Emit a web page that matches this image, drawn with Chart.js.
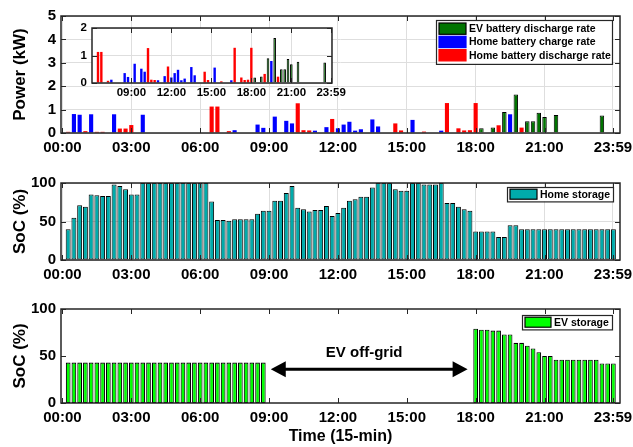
<!DOCTYPE html>
<html>
<head>
<meta charset="utf-8">
<script src="https://cdn.jsdelivr.net/npm/chart.js@4.4.1/dist/chart.umd.min.js"></script>
<style>
  html, body { margin: 0; padding: 0; background: #fff; }
  #wrap { position: relative; width: 633px; height: 447px; }
  #wrap canvas { position: absolute; }
</style>
</head>
<body>
<div id="wrap">
  <canvas id="powerChart" width="633" height="160" style="left:0;top:0"></canvas>
  <canvas id="homeChart" width="633" height="130" style="left:0;top:160px"></canvas>
  <canvas id="evChart" width="633" height="157" style="left:0;top:290px"></canvas>
  <canvas id="insetChart" width="290" height="90" style="left:60px;top:18px"></canvas>
</div>
<script>
// x axis is in 15-minute slots; slot k ends at k*15 min (bars sit at their end time)
const TICK_SLOTS  = [0, 12, 24, 36, 48, 60, 72, 84, 95.93];
const TICK_LABELS = ['00:00', '03:00', '06:00', '09:00', '12:00', '15:00', '18:00', '21:00', '23:59'];
const INSET_TICK_SLOTS  = [36, 48, 60, 72, 84, 95.93];
const INSET_TICK_LABELS = ['09:00', '12:00', '15:00', '18:00', '21:00', '23:59'];

// power (kW) per slot
const EV_DISCHARGE = [
  0, 0, 0, 0, 0, 0, 0, 0, 0, 0, 0, 0,
  0, 0, 0, 0, 0, 0, 0, 0, 0, 0, 0, 0,
  0, 0, 0, 0, 0, 0, 0, 0, 0, 0, 0, 0,
  0, 0, 0, 0, 0, 0, 0, 0, 0, 0, 0, 0,
  0, 0, 0, 0, 0, 0, 0, 0, 0, 0, 0, 0,
  0, 0, 0, 0, 0, 0, 0, 0, 0, 0, 0, 0,
  0.20, 0, 0.24, 0, 0.90, 0, 1.64, 0, 0.50, 0.50, 0.87, 0.68,
  0, 0.77, 0, 0, 0, 0, 0, 0, 0, 0.75, 0, 0
];
const HOME_CHARGE = [
  0, 0.81, 0.78, 0, 0.80, 0, 0, 0, 0.80, 0, 0, 0,
  0, 0.78, 0, 0, 0, 0, 0, 0, 0, 0, 0, 0,
  0, 0, 0, 0, 0, 0.12, 0, 0, 0, 0.36, 0.22, 0,
  0.70, 0, 0.52, 0.41, 0, 0, 0, 0.10, 0, 0.25, 0, 0.20,
  0.36, 0.48, 0.10, 0.16, 0, 0.58, 0.28, 0, 0, 0, 0, 0,
  0.56, 0, 0, 0, 0, 0.10, 0, 0, 0, 0, 0, 0,
  0, 0, 0, 0, 0, 0.80, 0, 0, 0, 0, 0, 0,
  0, 0, 0, 0, 0, 0, 0, 0, 0, 0, 0, 0
];
const HOME_DISCHARGE = [
  0.05, 0, 0, 0.08, 0, 0.05, 0.05, 0, 0, 0.19, 0.19, 0.34,
  0, 0, 0, 0, 0, 0, 0, 0, 0, 0, 0, 0,
  0, 1.13, 1.13, 0, 0.08, 0, 0, 0, 0, 0, 0, 0,
  0, 0, 0, 0, 1.27, 0.12, 0.11, 0, 0, 0, 0.60, 0,
  0, 0, 0, 0, 0, 0, 0, 0, 0, 0.41, 0.11, 0,
  0, 0, 0.06, 0, 0, 0, 1.28, 0, 0.20, 0.11, 0.12, 1.28,
  0, 0, 0, 0.33, 0, 0, 0, 0.23, 0, 0, 0, 0,
  0, 0, 0, 0, 0, 0, 0, 0, 0, 0, 0, 0
];

// state of charge (%) per slot
const HOME_SOC = [
  40, 55, 71, 69, 85, 84, 83, 83, 98, 96, 92, 85,
  85, 100, 100, 100, 100, 100, 100, 100, 100, 100, 100, 100,
  100, 76, 52, 52, 51, 53, 53, 53, 53, 60, 64, 64,
  77, 77, 87, 96, 68, 66, 63, 65, 65, 70, 57, 61,
  68, 77, 79, 82, 82, 94, 100, 100, 100, 92, 90, 90,
  100, 100, 98, 98, 98, 100, 74, 74, 69, 66, 64, 37,
  37, 37, 37, 30, 30, 45, 45, 40, 40, 40, 40, 40,
  40, 40, 40, 40, 40, 40, 40, 40, 40, 40, 40, 40
];
// EV is off-grid between the two blocks (null = no bar)
const EV_SOC = [
  43, 43, 43, 43, 43, 43, 43, 43, 43, 43, 43, 43,
  43, 43, 43, 43, 43, 43, 43, 43, 43, 43, 43, 43,
  43, 43, 43, 43, 43, 43, 43, 43, 43, 43, 43, null,
  null, null, null, null, null, null, null, null, null, null, null, null,
  null, null, null, null, null, null, null, null, null, null, null, null,
  null, null, null, null, null, null, null, null, null, null, null, 79,
  78, 78, 77, 77, 73, 73, 64, 64, 61, 58, 54, 50,
  50, 46, 46, 46, 46, 46, 46, 46, 46, 42, 42, 42
];

const INK = '#262626';
const GRID = '#dedede';
Chart.defaults.font.family = "'Liberation Sans', Arial, sans-serif";
Chart.defaults.font.weight = 'bold';
Chart.defaults.color = '#000';

// value i belongs to the slot ending at (i + 1)
const toPoints = (arr) => arr.map((v, i) => ({ x: i + 1, y: v }));
const tickLabel = (slots, labels) => (v) => {
  const k = slots.findIndex(s => Math.abs(s - v) < 1e-6);
  return k >= 0 ? labels[k] : '';
};

// box round the plot area with inward ticks, as MATLAB draws it
const frame = {
  id: 'frame',
  afterDatasetsDraw(chart) {
    const { ctx, chartArea: a, scales } = chart;
    const t = 5;
    ctx.save();
    ctx.strokeStyle = INK;
    ctx.lineWidth = 1;
    ctx.beginPath();
    scales.x.ticks.forEach(tk => {
      const px = Math.round(scales.x.getPixelForValue(tk.value)) + 0.5;
      ctx.moveTo(px, a.bottom); ctx.lineTo(px, a.bottom - t);
      ctx.moveTo(px, a.top); ctx.lineTo(px, a.top + t);
    });
    scales.y.ticks.forEach(tk => {
      const py = Math.round(scales.y.getPixelForValue(tk.value)) + 0.5;
      ctx.moveTo(a.left, py); ctx.lineTo(a.left + t, py);
      ctx.moveTo(a.right, py); ctx.lineTo(a.right - t, py);
    });
    ctx.stroke();
    ctx.lineWidth = 1.5;
    ctx.strokeRect(a.left, a.top, a.right - a.left, a.bottom - a.top);
    ctx.restore();
  }
};

// MATLAB style legend box in the upper right corner
const boxLegend = {
  id: 'boxLegend',
  afterDraw(chart, args, o) {
    if (!o || !o.rows) return;
    const { ctx, chartArea: a } = chart;
    const n = chart.data.datasets.length;
    const w = o.width, h = o.rows * n + 2 * o.pad;
    const x0 = a.right - o.right - w, y0 = a.top + o.top;
    ctx.save();
    ctx.fillStyle = '#fff';
    ctx.fillRect(x0, y0, w, h);
    ctx.strokeStyle = INK;
    ctx.lineWidth = 1.2;
    ctx.strokeRect(x0 + 0.5, y0 + 0.5, w, h);
    ctx.font = 'bold ' + o.size + 'px ' + Chart.defaults.font.family;
    ctx.textBaseline = 'middle';
    chart.data.datasets.forEach((ds, k) => {
      const cy = y0 + o.pad + o.rows * k + o.rows / 2;
      const ph = o.rows - 2;
      ctx.fillStyle = ds.backgroundColor;
      ctx.fillRect(x0 + 3, cy - ph / 2, o.patch, ph);
      ctx.strokeStyle = ds.legendEdge || ds.backgroundColor;
      ctx.lineWidth = 1.2;
      ctx.strokeRect(x0 + 3, cy - ph / 2, o.patch, ph);
      ctx.fillStyle = '#000';
      ctx.fillText(ds.label, x0 + o.patch + 6, cy + 0.5);
    });
    ctx.restore();
  }
};

// double arrow + label for the off-grid period
const offGrid = {
  id: 'offGrid',
  afterDraw(chart, args, o) {
    if (!o || !o.text) return;
    const { ctx, scales: { x, y } } = chart;
    const x1 = x.getPixelForValue(o.from), x2 = x.getPixelForValue(o.to);
    const ya = y.getPixelForValue(o.arrowAt);
    const hl = 15, hw = 8;
    ctx.save();
    ctx.strokeStyle = '#000';
    ctx.fillStyle = '#000';
    ctx.lineWidth = 3;
    ctx.beginPath();
    ctx.moveTo(x1 + hl - 2, ya); ctx.lineTo(x2 - hl + 2, ya);
    ctx.stroke();
    ctx.beginPath();
    ctx.moveTo(x1, ya); ctx.lineTo(x1 + hl, ya - hw); ctx.lineTo(x1 + hl, ya + hw); ctx.closePath();
    ctx.moveTo(x2, ya); ctx.lineTo(x2 - hl, ya - hw); ctx.lineTo(x2 - hl, ya + hw); ctx.closePath();
    ctx.fill();
    ctx.font = 'bold 15px ' + Chart.defaults.font.family;
    ctx.textAlign = 'center';
    ctx.textBaseline = 'middle';
    ctx.fillText(o.text, (x1 + x2) / 2 + o.dx, y.getPixelForValue(o.textAt));
    ctx.restore();
  }
};

const insetBg = {
  id: 'insetBg',
  beforeDraw(chart) {
    const { ctx, chartArea: a } = chart;
    ctx.save();
    ctx.fillStyle = '#fff';
    ctx.fillRect(a.left, a.top, a.right - a.left, a.bottom - a.top);
    ctx.restore();
  }
};

function xAxis(opts) {
  return {
    type: 'linear', offset: false,
    min: opts.min, max: opts.max,
    afterBuildTicks: (ax) => { ax.ticks = opts.slots.map(v => ({ value: v })); },
    afterFit: (ax) => { ax.height = opts.height; ax.paddingLeft = 0; ax.paddingRight = 0; },
    ticks: {
      autoSkip: false, maxRotation: 0, padding: opts.pad,
      font: { size: opts.font, weight: 'bold' }, color: '#000',
      callback: tickLabel(opts.slots, opts.labels)
    },
    grid: { display: opts.grid, color: GRID, drawTicks: false, offset: false },
    border: { display: false },
    title: opts.title ? {
      display: true, text: opts.title, color: '#000',
      font: { size: 16, weight: 'bold' }, padding: { top: 0, bottom: 1 }
    } : { display: false }
  };
}

function yAxis(opts) {
  return {
    min: opts.min, max: opts.max,
    afterFit: (ax) => { ax.width = opts.width; ax.paddingTop = 0; ax.paddingBottom = 0; },
    ticks: { stepSize: opts.step, padding: opts.pad, font: { size: opts.font, weight: 'bold' }, color: '#000' },
    grid: { display: opts.grid, color: GRID, drawTicks: false },
    border: { display: false },
    title: opts.title ? {
      display: true, text: opts.title, color: '#000',
      font: { size: 17, weight: 'bold' }, padding: { top: 10, bottom: 0 }
    } : { display: false }
  };
}

const common = {
  responsive: false, animation: false, devicePixelRatio: 1,
  plugins: { legend: { display: false }, tooltip: { enabled: false } }
};

function powerSets(minX) {
  const pick = (arr) => toPoints(arr).filter(p => p.x >= minX);
  return [
    { label: 'EV battery discharge rate', data: pick(EV_DISCHARGE), backgroundColor: '#007400',
      borderColor: '#000', borderWidth: 1, legendEdge: '#000', grouped: false,
      barPercentage: 0.78, categoryPercentage: 1 },
    { label: 'Home battery charge rate', data: pick(HOME_CHARGE), backgroundColor: '#0000ff',
      borderWidth: 0, grouped: false, barPercentage: 0.72, categoryPercentage: 1 },
    { label: 'Home battery discharge rate', data: pick(HOME_DISCHARGE), backgroundColor: '#ff0000',
      borderWidth: 0, grouped: false, barPercentage: 0.72, categoryPercentage: 1 }
  ];
}

const X_MIN = -0.25, X_MAX = 97.15;

// 1. power panel
new Chart(document.getElementById('powerChart'), {
  type: 'bar',
  data: { datasets: powerSets(0) },
  options: {
    ...common,
    layout: { padding: { top: 16, right: 13, left: 0, bottom: 0 } },
    scales: {
      x: xAxis({ min: X_MIN, max: X_MAX, slots: TICK_SLOTS, labels: TICK_LABELS, height: 27, pad: 6, font: 15, grid: true }),
      y: yAxis({ min: 0, max: 5, step: 1, width: 61, pad: 5, font: 15, grid: true, title: 'Power (kW)' })
    },
    plugins: { ...common.plugins, boxLegend: { rows: 13.3, pad: 2, width: 176, right: 8, top: 4, patch: 27, size: 10.5 } }
  },
  plugins: [frame, boxLegend]
});

// 1b. inset zoom of the same power data
new Chart(document.getElementById('insetChart'), {
  type: 'bar',
  data: { datasets: powerSets(24.5) },
  options: {
    ...common,
    layout: { padding: { top: 10, right: 18, left: 0, bottom: 0 } },
    scales: {
      x: xAxis({ min: 24.2, max: 96.2, slots: INSET_TICK_SLOTS, labels: INSET_TICK_LABELS, height: 25, pad: 3, font: 11.5, grid: true }),
      y: yAxis({ min: 0, max: 2, step: 1, width: 32, pad: 5, font: 11.5, grid: true })
    }
  },
  plugins: [insetBg, frame]
});

// 2. home storage state of charge
new Chart(document.getElementById('homeChart'), {
  type: 'bar',
  data: {
    datasets: [{
      label: 'Home storage', data: toPoints(HOME_SOC), backgroundColor: '#00abab',
      borderColor: '#000', borderWidth: 1, borderSkipped: false, legendEdge: '#000',
      barPercentage: 0.86, categoryPercentage: 1
    }]
  },
  options: {
    ...common,
    layout: { padding: { top: 23, right: 13, left: 0, bottom: 0 } },
    scales: {
      x: xAxis({ min: X_MIN, max: X_MAX, slots: TICK_SLOTS, labels: TICK_LABELS, height: 30, pad: 6, font: 15, grid: true }),
      y: yAxis({ min: 0, max: 100, step: 50, width: 61, pad: 5, font: 15, grid: true, title: 'SoC (%)' })
    },
    plugins: { ...common.plugins, boxLegend: { rows: 12, pad: 1.2, width: 106, right: 7, top: 4, patch: 27, size: 10.5 } }
  },
  plugins: [frame, boxLegend]
});

// 3. EV storage state of charge
new Chart(document.getElementById('evChart'), {
  type: 'bar',
  data: {
    datasets: [{
      label: 'EV storage', data: toPoints(EV_SOC), backgroundColor: '#00ff00',
      borderColor: '#000', borderWidth: 1.1, borderSkipped: false, legendEdge: '#000',
      barPercentage: 0.82, categoryPercentage: 1
    }]
  },
  options: {
    ...common,
    layout: { padding: { top: 19, right: 13, left: 0, bottom: 0 } },
    scales: {
      x: xAxis({ min: X_MIN, max: X_MAX, slots: TICK_SLOTS, labels: TICK_LABELS, height: 44, pad: 6, font: 15, grid: false, title: 'Time (15-min)' }),
      y: yAxis({ min: 0, max: 100, step: 50, width: 61, pad: 5, font: 15, grid: false, title: 'SoC (%)' })
    },
    plugins: {
      ...common.plugins,
      boxLegend: { rows: 12, pad: 1.2, width: 90, right: 8, top: 6, patch: 26, size: 10.5 },
      offGrid: { text: 'EV off-grid', from: 36.3, to: 70.6, arrowAt: 36, textAt: 53, dx: -5 }
    }
  },
  plugins: [frame, boxLegend, offGrid]
});
</script>
</body>
</html>
